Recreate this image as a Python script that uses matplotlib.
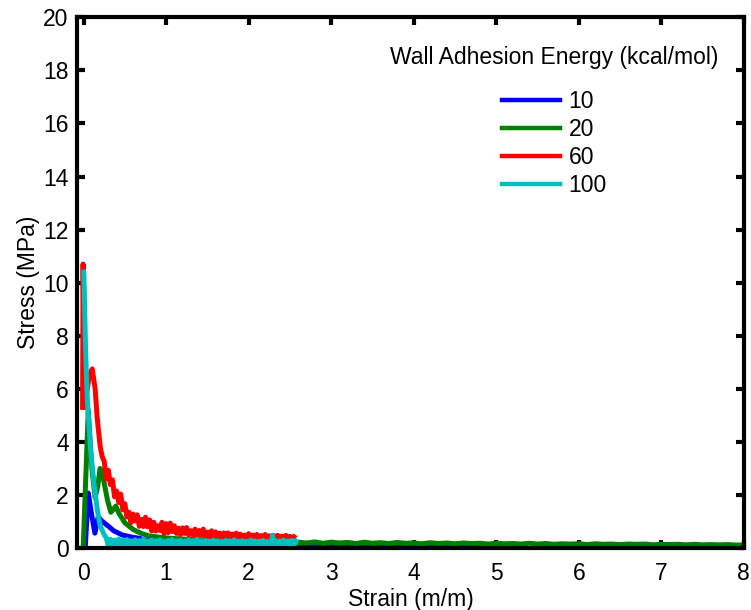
import matplotlib
matplotlib.use("Agg")
import matplotlib.pyplot as plt

plt.rcParams['font.family'] = ['Liberation Sans', 'DejaVu Sans']
# keep every vertex of the noisy traces
plt.rcParams['path.simplify'] = False

# Stress-strain responses for four wall adhesion energies (kcal/mol)
labels = ["10", "20", "60", "100"]
colors = ["#0000ff", "#007f00", "#ff0000", "#00bfbf"]

strain_10 = [0.02, 0.057, 0.09, 0.137, 0.178, 0.22, 0.26, 0.31, 0.36, 0.41, 0.47, 0.53,
             0.60, 0.67, 0.75, 0.85, 1.0, 1.2, 1.5, 1.8, 2.2, 2.6, 3.0, 3.5, 4.0, 4.5, 5.1]
stress_10 = [0.0, 2.07, 1.40, 0.56, 1.18, 1.02, 0.92, 0.80, 0.66, 0.58, 0.49, 0.45,
             0.40, 0.37, 0.30, 0.25, 0.20, 0.15, 0.10, 0.08, 0.06, 0.05, 0.05, 0.04, 0.04, 0.03, 0.03]

strain_20 = [-0.005, 0.057, 0.10, 0.14, 0.17, 0.20, 0.24, 0.29, 0.33, 0.36, 0.39, 0.43,
             0.50, 0.60, 0.70, 0.80, 1.0, 1.3, 1.6, 2.0, 2.5,
             2.6, 2.7, 2.8, 2.9, 3.0, 3.1, 3.2, 3.3, 3.4, 3.5, 3.6, 3.7, 3.8, 3.9, 4.0,
             4.1, 4.2, 4.3, 4.4, 4.5, 4.6, 4.7, 4.8, 4.9, 5.0, 5.1, 5.2, 5.3, 5.4, 5.5,
             5.6, 5.7, 5.8, 5.9, 6.0, 6.1, 6.2, 6.3, 6.4, 6.5, 6.6, 6.7, 6.8, 6.9, 7.0,
             7.1, 7.2, 7.3, 7.4, 7.5, 7.6, 7.7, 7.8, 7.9, 8.0]
stress_20 = [0.0, 5.20, 3.0, 1.90, 2.30, 3.00, 2.60, 1.80, 1.35, 1.45, 1.58, 1.30,
             0.95, 0.70, 0.55, 0.45, 0.38, 0.32, 0.30, 0.28, 0.25,
             0.22, 0.19, 0.23, 0.18, 0.22, 0.19, 0.21, 0.17, 0.22, 0.18, 0.20, 0.17, 0.21, 0.18, 0.19,
             0.16, 0.20, 0.17, 0.19, 0.16, 0.19, 0.17, 0.18, 0.15, 0.18, 0.16, 0.17, 0.15, 0.18, 0.15,
             0.17, 0.14, 0.16, 0.15, 0.16, 0.13, 0.16, 0.14, 0.15, 0.13, 0.15, 0.14, 0.15, 0.12, 0.14,
             0.13, 0.14, 0.12, 0.14, 0.12, 0.13, 0.12, 0.13, 0.11, 0.12]

strain_60 = [-0.012, -0.006, 0.012, 0.04, 0.07, 0.105, 0.14, 0.165, 0.20, 0.225,
             0.250, 0.275, 0.300, 0.325, 0.350, 0.375, 0.400, 0.425, 0.450, 0.475,
             0.500, 0.525, 0.550, 0.575, 0.600, 0.625, 0.650, 0.675, 0.700, 0.725,
             0.750, 0.775, 0.800, 0.825, 0.850, 0.875, 0.900, 0.925, 0.950, 0.975,
             1.000, 1.025, 1.050, 1.075, 1.100, 1.125, 1.150, 1.175, 1.200, 1.225,
             1.250, 1.275, 1.300, 1.325, 1.350, 1.375, 1.400, 1.425, 1.450, 1.475,
             1.500, 1.525, 1.550, 1.575, 1.600, 1.625, 1.650, 1.675, 1.700, 1.725,
             1.750, 1.775, 1.800, 1.825, 1.850, 1.875, 1.900, 1.925, 1.950, 1.975,
             2.000, 2.025, 2.050, 2.075, 2.100, 2.125, 2.150, 2.175, 2.200, 2.225,
             2.250, 2.275, 2.300, 2.325, 2.350, 2.375, 2.400, 2.425, 2.450, 2.475,
             2.500, 2.525, 2.550]
stress_60 = [5.3, 10.7, 5.3, 5.9, 6.5, 6.75, 6.0, 4.9, 3.85, 3.45,
             3.27, 2.60, 2.93, 2.39, 2.57, 1.93, 2.15, 1.72, 2.03, 1.44,
             1.67, 1.17, 1.35, 0.96, 1.28, 1.02, 1.25, 0.82, 1.08, 0.81,
             1.16, 0.80, 1.06, 0.64, 0.97, 0.64, 0.84, 0.66, 0.97, 0.54,
             0.92, 0.58, 0.94, 0.62, 0.84, 0.55, 0.75, 0.51, 0.76, 0.55,
             0.77, 0.49, 0.65, 0.49, 0.71, 0.42, 0.66, 0.49, 0.71, 0.43,
             0.60, 0.41, 0.65, 0.44, 0.61, 0.44, 0.56, 0.41, 0.57, 0.45,
             0.57, 0.41, 0.53, 0.38, 0.56, 0.42, 0.52, 0.38, 0.49, 0.39,
             0.54, 0.38, 0.49, 0.35, 0.51, 0.38, 0.47, 0.34, 0.51, 0.36,
             0.46, 0.32, 0.48, 0.36, 0.48, 0.33, 0.45, 0.30, 0.48, 0.34,
             0.44, 0.30, 0.42]

strain_100 = [0.003, 0.006, 0.024, 0.045, 0.085, 0.125, 0.166, 0.20, 0.25, 0.275,
              0.300, 0.325, 0.350, 0.375, 0.400, 0.425, 0.450, 0.475, 0.500, 0.525,
              0.550, 0.575, 0.600, 0.625, 0.650, 0.675, 0.700, 0.725, 0.750, 0.775,
              0.800, 0.825, 0.850, 0.875, 0.900, 0.925, 0.950, 0.975, 1.000, 1.025,
              1.050, 1.075, 1.100, 1.125, 1.150, 1.175, 1.200, 1.225, 1.250, 1.275,
              1.300, 1.325, 1.350, 1.375, 1.400, 1.425, 1.450, 1.475, 1.500, 1.525,
              1.550, 1.575, 1.600, 1.625, 1.650, 1.675, 1.700, 1.725, 1.750, 1.775,
              1.800, 1.825, 1.850, 1.875, 1.900, 1.925, 1.950, 1.975, 2.000, 2.025,
              2.050, 2.075, 2.100, 2.125, 2.150, 2.175, 2.200, 2.225, 2.250, 2.275,
              2.290, 2.305, 2.325, 2.350, 2.375, 2.400, 2.425, 2.450, 2.475, 2.500,
              2.525, 2.550, 2.575]
stress_100 = [10.4, 10.0, 7.5, 5.6, 3.7, 2.45, 1.45, 0.85, 0.50, 0.38,
              0.08, 0.33, 0.06, 0.30, 0.10, 0.34, 0.07, 0.29, 0.05, 0.32,
              0.09, 0.27, 0.06, 0.31, 0.11, 0.28, 0.05, 0.33, 0.08, 0.26,
              0.07, 0.30, 0.10, 0.28, 0.06, 0.31, 0.08, 0.25, 0.05, 0.29,
              0.09, 0.32, 0.06, 0.27, 0.10, 0.30, 0.07, 0.26, 0.05, 0.31,
              0.08, 0.28, 0.06, 0.33, 0.09, 0.27, 0.05, 0.29, 0.08, 0.26,
              0.06, 0.30, 0.10, 0.27, 0.07, 0.25, 0.05, 0.29, 0.08, 0.27,
              0.06, 0.31, 0.09, 0.26, 0.05, 0.28, 0.07, 0.25, 0.06, 0.30,
              0.09, 0.27, 0.05, 0.26, 0.08, 0.29, 0.06, 0.25, 0.07, 0.27,
              0.48, 0.06, 0.28, 0.08, 0.26, 0.05, 0.30, 0.07, 0.27, 0.06,
              0.29, 0.08, 0.26]

series = [(strain_10, stress_10), (strain_20, stress_20),
          (strain_60, stress_60), (strain_100, stress_100)]

x_ticks = [0, 1, 2, 3, 4, 5, 6, 7, 8]
y_ticks = [0, 2, 4, 6, 8, 10, 12, 14, 16, 18, 20]

FS = 16.5

fig = plt.figure(figsize=(7.51, 6.10), dpi=100)
ax = fig.add_axes([0.1025, 0.1016, 0.888, 0.870])

for (sx, sy), lab, col in zip(series, labels, colors):
    ax.plot(sx, sy, color=col, lw=3.6, label=lab, solid_joinstyle='round')

ax.set_xlim(-0.08, 8)
ax.set_ylim(0, 20)
ax.set_xticks(x_ticks)
ax.set_yticks(y_ticks)

for sp in ax.spines.values():
    sp.set_linewidth(3.0)
ax.tick_params(direction='in', length=6, width=3, top=True, right=True,
               labelsize=FS)
ax.tick_params(axis='x', pad=10)
ax.tick_params(axis='y', pad=6)

ax.set_xlabel("Strain (m/m)", fontsize=FS, labelpad=2)
ax.set_ylabel("Stress (MPa)", fontsize=FS, labelpad=2)

leg = ax.legend(title="Wall Adhesion Energy (kcal/mol)", frameon=False,
                fontsize=FS, title_fontsize=FS, loc='upper right',
                bbox_to_anchor=(0.993, 0.984), handlelength=2.55,
                handletextpad=0.35, labelspacing=0.22)
for h in leg.get_lines():
    h.set_linewidth(3.2)
leg._legend_box.sep = 15

fig.savefig("out.png", dpi=100)
